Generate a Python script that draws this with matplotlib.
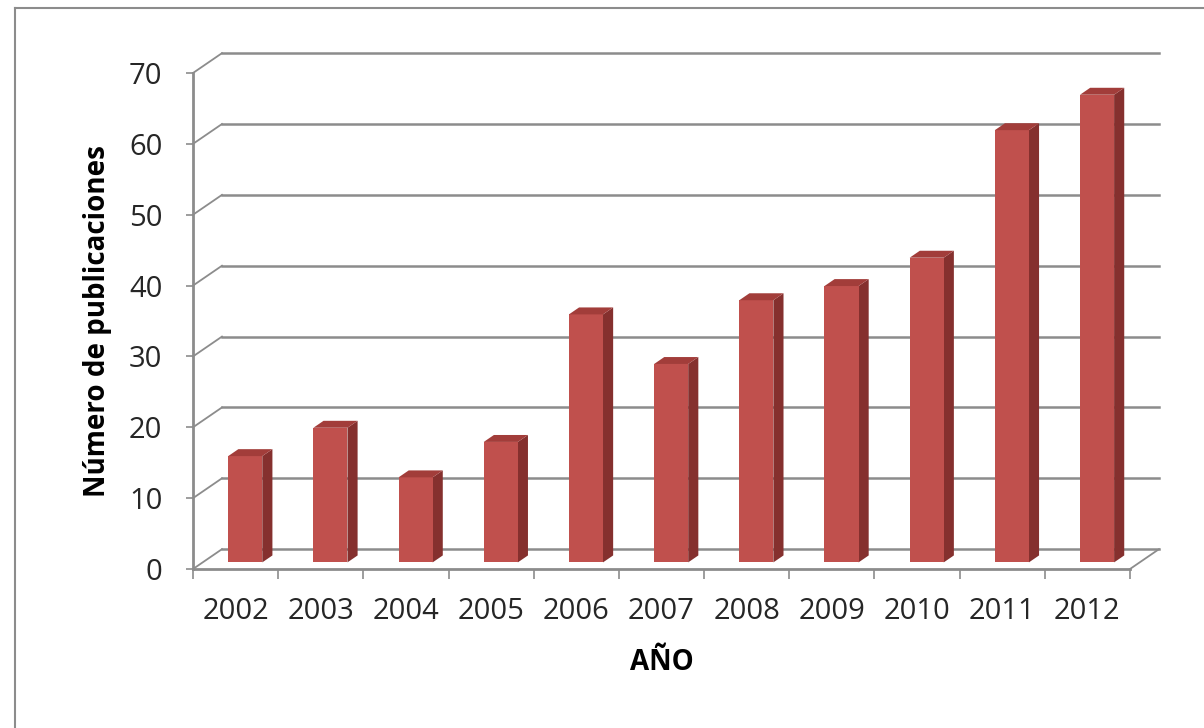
import matplotlib.pyplot as plt
from matplotlib.patches import Polygon, Rectangle
from matplotlib.lines import Line2D

plt.rcParams['font.family'] = ['Open Sans', 'DejaVu Sans']

years = ['2002', '2003', '2004', '2005', '2006', '2007', '2008', '2009', '2010', '2011', '2012']
publications = [15, 19, 12, 17, 35, 28, 37, 39, 43, 61, 66]
y_ticks = [0, 10, 20, 30, 40, 50, 60, 70]

grid_color = '#8c8c8c'
front_color = '#c0504d'
side_color = '#85302e'
top_color = '#a23d3a'

# depth of the fake 3d box, in data units (categories / values)
dx = 0.34
dy = 2.8
bar_w = 0.4

fig = plt.figure(figsize=(12.04, 7.28), dpi=100)
W, H = 1204, 728
ax = fig.add_axes([193 / W, (H - 569) / H, (1130 - 193) / W, (569 - 73) / H])
n = len(years)
ax.set_xlim(0, n)
ax.set_ylim(0, 70)

# back wall gridlines and side wall diagonals
for v in y_ticks:
    ax.add_line(Line2D([dx, n + dx], [v + dy, v + dy], color=grid_color, lw=1.8,
                       clip_on=False, zorder=1))
    ax.add_line(Line2D([0, dx], [v, v + dy], color=grid_color, lw=1.3,
                       clip_on=False, zorder=1))
ax.add_line(Line2D([n, n + dx], [0, dy], color=grid_color, lw=1.3, clip_on=False, zorder=1))

# bars
for i, v in enumerate(publications):
    x0 = i + 0.5 - bar_w / 2 + dx / 3
    x1 = x0 + bar_w
    b = dy / 3
    ddx, ddy = dx / 3 * 1.05, dy / 3 * 1.05
    ax.add_patch(Polygon([(x1, b), (x1 + ddx, b + ddy), (x1 + ddx, b + v + ddy), (x1, b + v)],
                         closed=True, facecolor=side_color, edgecolor='none', zorder=3,
                         clip_on=False))
    ax.add_patch(Rectangle((x0, b), bar_w, v, facecolor=front_color, edgecolor='none',
                           zorder=3, clip_on=False))
    ax.add_patch(Polygon([(x0, b + v), (x1, b + v), (x1 + ddx, b + v + ddy), (x0 + ddx, b + v + ddy)],
                         closed=True, facecolor=top_color, edgecolor='none', zorder=3,
                         clip_on=False))

# axes
for side in ['top', 'right']:
    ax.spines[side].set_visible(False)
for side in ['left', 'bottom']:
    ax.spines[side].set_color(grid_color)
    ax.spines[side].set_linewidth(2)
    ax.spines[side].set_zorder(4)
ax.set_facecolor('none')

ax.set_yticks(y_ticks)
ax.tick_params(axis='y', length=5, width=1.2, color=grid_color, pad=17,
               labelsize=21, labelcolor='#262626')
ax.set_xticks(range(n + 1))
ax.set_xticklabels([])
ax.set_xticks([i + 0.5 for i in range(n)], minor=True)
ax.set_xticklabels(years, minor=True)
ax.tick_params(axis='x', which='major', length=7, width=1.2, color=grid_color)
ax.tick_params(axis='x', which='minor', length=0, pad=20, labelsize=21, labelcolor='#262626')

ax.set_ylabel('Número de publicaciones', fontsize=20, fontweight='bold', labelpad=12)
ax.set_xlabel('AÑO', fontsize=20, fontweight='bold', labelpad=16)

# chart border
fig.add_artist(Line2D([15 / W, 15 / W], [0, 1 - 8 / H], color='#8c8c8c', lw=1.5))
fig.add_artist(Line2D([15 / W, 1], [1 - 8 / H, 1 - 8 / H], color='#8c8c8c', lw=1.5))

fig.savefig('out.png', dpi=100, facecolor='white')
